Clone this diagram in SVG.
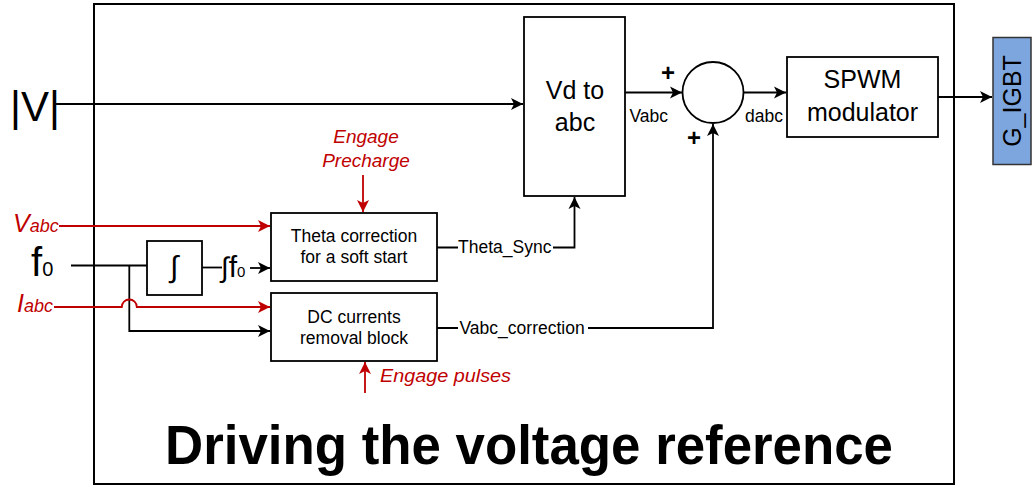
<svg xmlns="http://www.w3.org/2000/svg" width="1035" height="487" viewBox="0 0 1035 487">
<style>
text{font-family:"Liberation Sans",Arial,sans-serif;fill:#000}
.blk{fill:#fff;stroke:#000;stroke-width:1.8}
.ln{fill:none;stroke:#000;stroke-width:1.8}
.rl{fill:none;stroke:#C00000;stroke-width:1.8}
.red{fill:#C00000;font-style:italic}
.mid{text-anchor:middle}
.s17{font-size:17.5px}
.s25{font-size:25px}
</style>
<defs>
<marker id="ab" viewBox="-1 -7 14 14" markerWidth="14" markerHeight="14" refX="12" refY="0" orient="auto" markerUnits="userSpaceOnUse">
<path d="M0,-6 L12,0 L0,6 L3,0 z" fill="#000"/>
</marker>
<marker id="ar" viewBox="-1 -7 14 14" markerWidth="14" markerHeight="14" refX="12" refY="0" orient="auto" markerUnits="userSpaceOnUse">
<path d="M0,-6 L12,0 L0,6 L3,0 z" fill="#C00000"/>
</marker>
</defs>
<rect id="frame" x="94" y="4" width="860" height="480" fill="none" stroke="#000" stroke-width="2"/>
<g id="connectors">
<path class="ln" d="M55,104 H523" marker-end="url(#ab)"/>
<path class="ln" d="M625,92.5 H682" marker-end="url(#ab)"/>
<path class="ln" d="M743.5,92.5 H786" marker-end="url(#ab)"/>
<path class="ln" d="M938,97 H992" marker-end="url(#ab)"/>
<path class="ln" d="M437,247.5 H458 M553,247.5 H574.5 V197" marker-end="url(#ab)"/>
<path class="ln" d="M437,328 H458 M588,328 H713 V124" marker-end="url(#ab)"/>
<path class="ln" d="M71,265.5 H147"/>
<path class="ln" d="M129.3,265.5 V331 H270" marker-end="url(#ab)"/>
<path class="ln" d="M202,267.5 H222"/>
<path class="ln" d="M250,268 H270" marker-end="url(#ab)"/>
<path class="rl" d="M59,226 H270" marker-end="url(#ar)"/>
<path class="rl" d="M54,307 H121.8 A7.5,7.5 0 0 1 136.8,307 H270" marker-end="url(#ar)"/>
<path class="rl" d="M363,175 V212" marker-end="url(#ar)"/>
<path class="rl" d="M365,393 V362" marker-end="url(#ar)"/>
</g>
<g id="inputs">
<text x="10" y="121" font-size="42">|V|</text>
<text x="13" y="232" class="red"><tspan font-size="25">V</tspan><tspan font-size="18">abc</tspan></text>
<text x="31" y="276"><tspan font-size="40">f</tspan><tspan font-size="20">0</tspan></text>
<text x="17" y="312" class="red"><tspan font-size="25">I</tspan><tspan font-size="18">abc</tspan></text>
</g>
<g id="integrator">
<rect class="blk" x="147" y="241" width="55" height="54"/>
<text x="174" y="277" class="mid" font-size="30">∫</text>
</g>
<text id="int-out" x="221" y="277"><tspan font-size="28">∫</tspan><tspan font-size="30">f</tspan><tspan font-size="15">0</tspan></text>
<g id="theta">
<rect class="blk" x="271" y="213" width="166" height="68"/>
<text x="354" y="241.5" class="mid s17">Theta correction</text>
<text x="354" y="263" class="mid s17">for a soft start</text>
</g>
<g id="dc">
<rect class="blk" x="271" y="293" width="166" height="68"/>
<text x="354" y="322.5" class="mid s17">DC currents</text>
<text x="354" y="344" class="mid s17">removal block</text>
</g>
<text x="458" y="253" class="s17">Theta_Sync</text>
<text x="459.5" y="333.5" class="s17">Vabc_correction</text>
<g id="engage-precharge">
<text x="366" y="143" class="red mid" font-size="19">Engage</text>
<text x="366" y="167" class="red mid" font-size="19">Precharge</text>
</g>
<text id="engage-pulses" x="380" y="382" class="red" font-size="18.5" textLength="131" lengthAdjust="spacingAndGlyphs">Engage pulses</text>
<g id="vd2abc">
<rect class="blk" x="524" y="17" width="101" height="179"/>
<text x="575" y="98.5" class="mid s25">Vd to</text>
<text x="575" y="130.5" class="mid s25">abc</text>
</g>
<text x="629.5" y="122.3" class="s17">Vabc</text>
<g id="sum">
<circle cx="713" cy="92.5" r="30.5" fill="#fff" stroke="#000" stroke-width="1.8"/>
<text x="668" y="80.5" class="mid" font-size="24" font-weight="bold">+</text>
<text x="694" y="146" class="mid" font-size="24" font-weight="bold">+</text>
</g>
<text x="745" y="122" class="s17">dabc</text>
<g id="spwm">
<rect class="blk" x="787" y="57" width="151" height="80"/>
<text x="862.5" y="88" class="mid s25">SPWM</text>
<text x="862.5" y="121" class="mid s25">modulator</text>
</g>
<g id="gigbt">
<rect x="993" y="37.5" width="38" height="127" fill="#7EA6DE" stroke="#333" stroke-width="1.5"/>
<text transform="translate(1021,101) rotate(-90)" class="mid s25">G_IGBT</text>
</g>
<text id="title" x="165" y="464" font-size="56" font-weight="bold" textLength="728" lengthAdjust="spacingAndGlyphs">Driving the voltage reference</text>
</svg>
